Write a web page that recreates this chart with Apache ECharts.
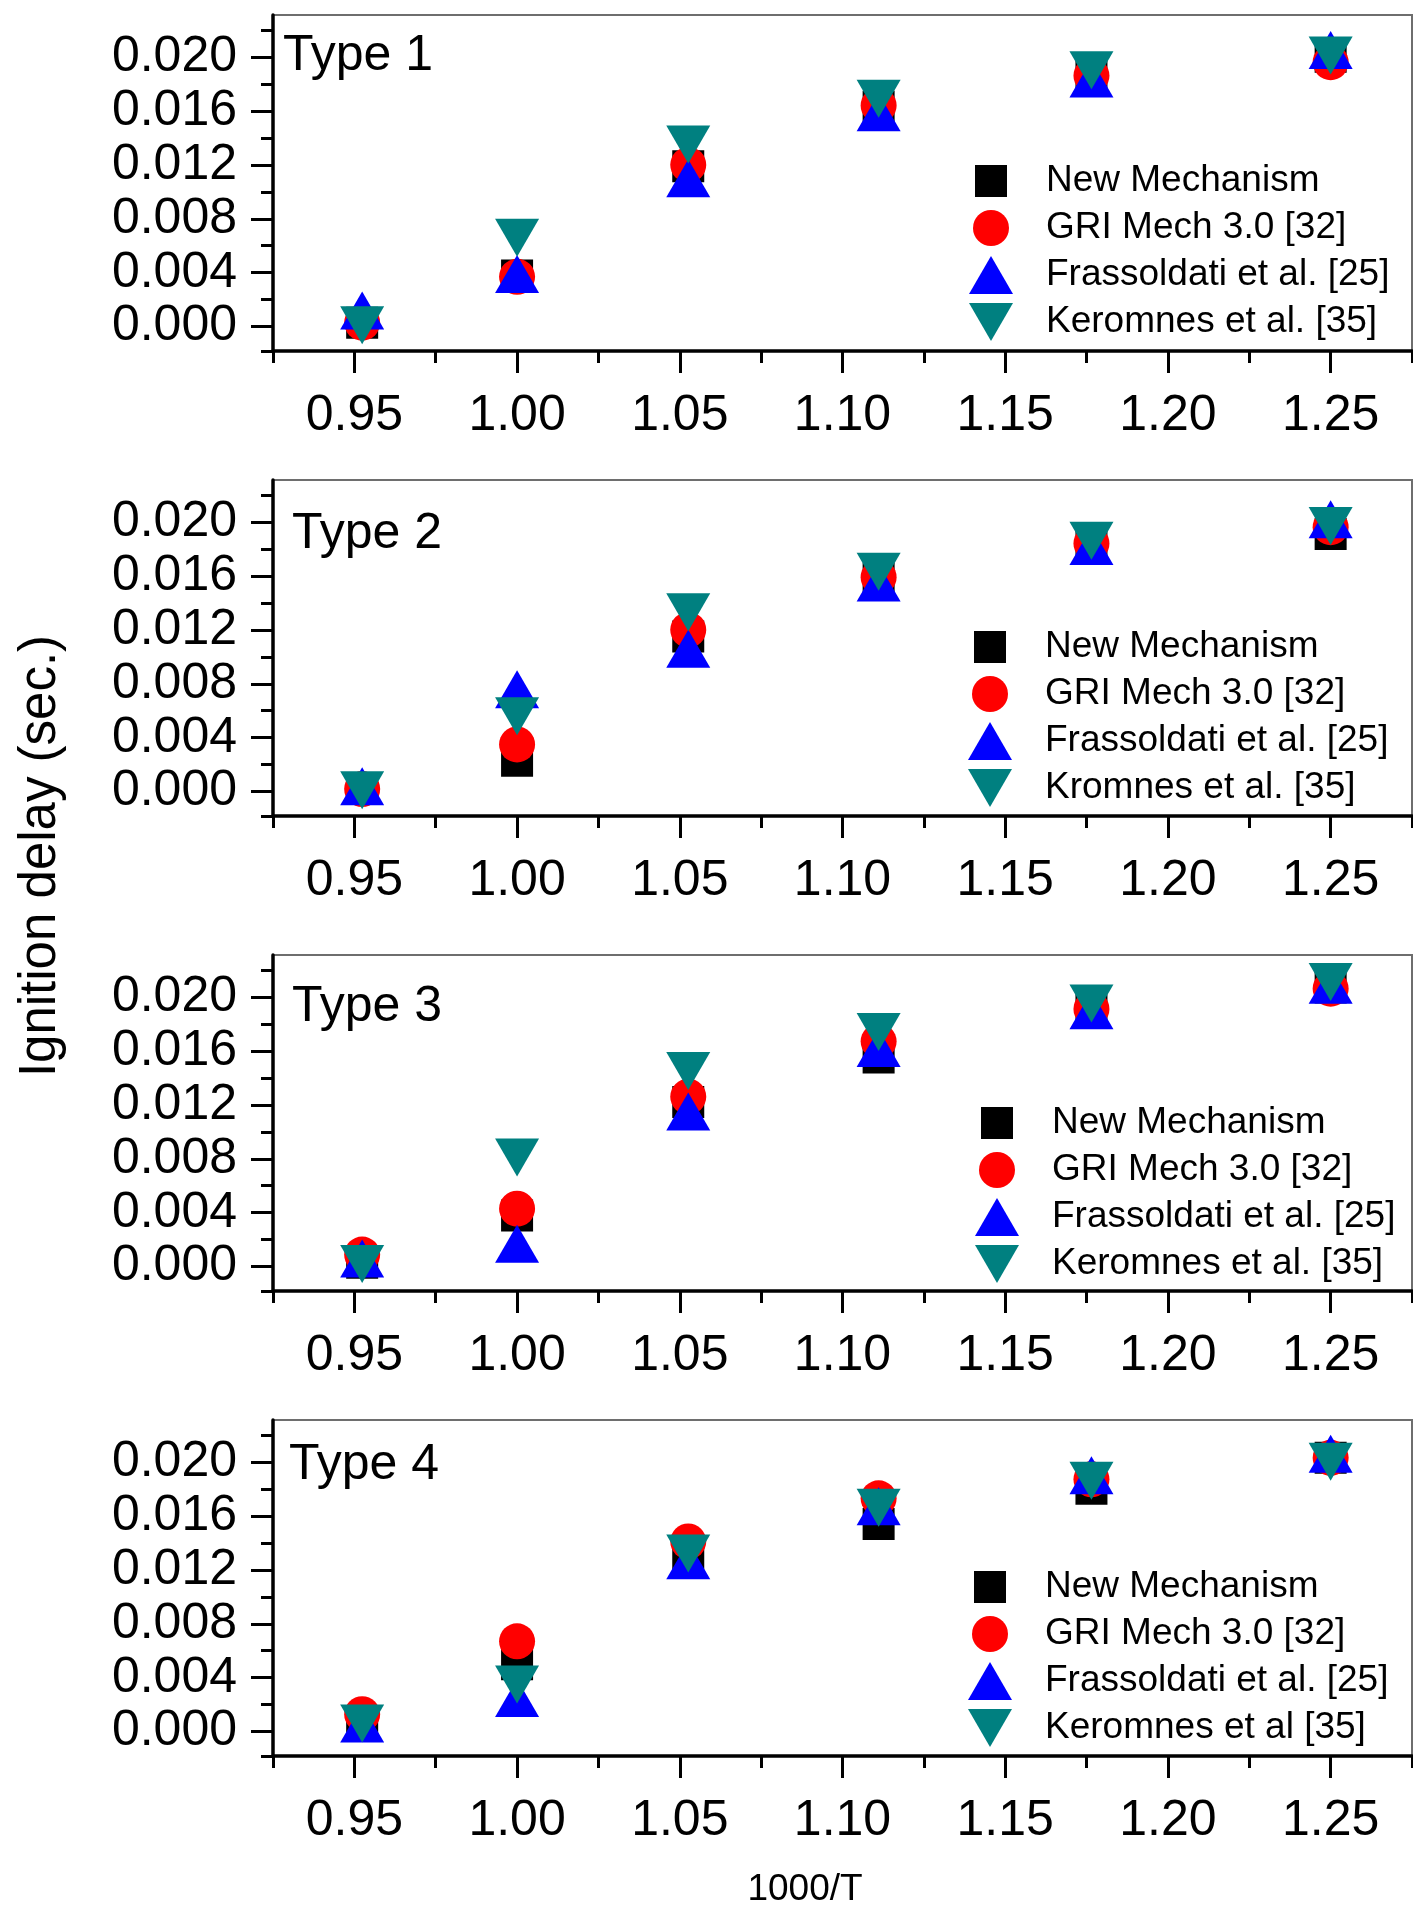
<!DOCTYPE html>
<html>
<head>
<meta charset="utf-8">
<title>Ignition delay vs 1000/T</title>
<script src="https://cdn.jsdelivr.net/npm/echarts@6/dist/echarts.min.js"></script>
<style>
  html, body { margin: 0; padding: 0; background: #ffffff; overflow: hidden; }
  #chart { width: 1413px; height: 1913px; }
</style>
</head>
<body>
<div id="chart"></div>
<script>
// 1000/T for T = 1050, 1000, 950, 900, 850, 800 K
const inverseTemp = [0.9524, 1.0000, 1.0526, 1.1111, 1.1765, 1.2500];

// Ignition delay (s) per mechanism, Type 1
const type1New  = [0.0003, 0.0038, 0.0119, 0.0163, 0.0185, 0.0200];
const type1Gri  = [0.0003, 0.0037, 0.0120, 0.0164, 0.0186, 0.0196];
const type1Fras = [0.0012, 0.0039, 0.0110, 0.0159, 0.0184, 0.0205];
const type1Ker  = [0.0001, 0.0066, 0.0135, 0.0169, 0.0190, 0.0201];

// Type 2
const type2New  = [0.0002, 0.0023, 0.0115, 0.0158, 0.0183, 0.0191];
const type2Gri  = [0.0002, 0.0035, 0.0120, 0.0159, 0.0184, 0.0196];
const type2Fras = [0.0004, 0.0076, 0.0106, 0.0155, 0.0182, 0.0202];
const type2Ker  = [0.0001, 0.0056, 0.0133, 0.0163, 0.0186, 0.0197];

// Type 3
const type3New  = [0.0003, 0.0038, 0.0122, 0.0155, 0.0190, 0.0207];
const type3Gri  = [0.0009, 0.0043, 0.0126, 0.0167, 0.0191, 0.0206];
const type3Fras = [0.0006, 0.0017, 0.0115, 0.0162, 0.0190, 0.0209];
const type3Ker  = [0.0002, 0.0081, 0.0145, 0.0174, 0.0195, 0.0211];

// Type 4
const type4New  = [0.0005, 0.0050, 0.0130, 0.0154, 0.0180, 0.0203];
const type4Gri  = [0.0013, 0.0067, 0.0141, 0.0173, 0.0187, 0.0203];
const type4Fras = [0.0006, 0.0025, 0.0127, 0.0167, 0.0190, 0.0206];
const type4Ker  = [0.0006, 0.0035, 0.0132, 0.0166, 0.0186, 0.0200];

const panelTitles = ['Type 1', 'Type 2', 'Type 3', 'Type 4'];
const commonNames = ['New Mechanism', 'GRI Mech 3.0 [32]', 'Frassoldati et al. [25]'];
const keromnesNames = ['Keromnes et al. [35]', 'Kromnes et al. [35]', 'Keromnes et al. [35]', 'Keromnes et al [35]'];

const xTicks = [0.95, 1.00, 1.05, 1.10, 1.15, 1.20, 1.25];
const xMinorTicks = [0.925, 0.975, 1.025, 1.075, 1.125, 1.175, 1.225, 1.275];
const yTicks = [0.000, 0.004, 0.008, 0.012, 0.016, 0.020];
const yMinorTicks = [0.002, 0.006, 0.010, 0.014, 0.018, 0.022];

const panelData = [
  [type1New, type1Gri, type1Fras, type1Ker],
  [type2New, type2Gri, type2Fras, type2Ker],
  [type3New, type3Gri, type3Fras, type3Ker],
  [type4New, type4Gri, type4Fras, type4Ker]
];

// ---- layout and styling ----
const FONT = "'Liberation Sans', Arial, Helvetica, sans-serif";
const X_MIN = 0.925, X_MAX = 1.275;
const Y_MIN = -0.0018, Y_MAX = 0.0231;
const GRID_LEFT = 273, GRID_WIDTH = 1139, GRID_HEIGHT = 336;
const panelTops = [15, 480, 955, 1420];
const titleLeft = [283, 292, 292, 289];
const titleTop = [31, 509, 982, 1440];
const legendLeft = [969, 968, 975, 968];
const legendTop = [162, 628, 1104, 1568];

// marker per mechanism; legend icons share a 72x38 box so the text starts at the same place
const markers = [
  { color: '#000000', symbol: 'rect', size: 32,
    icon: 'path://M0,0M72,38M6,3L38,3L38,35L6,35Z' },
  { color: '#ff0000', symbol: 'circle', size: 36,
    icon: 'path://M0,0M72,38M4,19A18,18,0,1,1,40,19A18,18,0,1,1,4,19Z' },
  { color: '#0000ff', symbol: 'triangle', size: [44, 38],
    icon: 'path://M0,0M72,38M22,0L44,38L0,38Z' },
  { color: '#008080', symbol: 'path://M0,0L44,0L22,38Z', size: [44, 38],
    icon: 'path://M0,0M72,38M0,0L44,0L22,38Z' }
];

const grids = [], xAxes = [], yAxes = [], series = [], legends = [], titles = [];

panelData.forEach((sets, i) => {
  grids.push({
    left: GRID_LEFT, top: panelTops[i], width: GRID_WIDTH, height: GRID_HEIGHT,
    show: true, borderColor: '#6e6e6e', borderWidth: 2, backgroundColor: 'transparent', z: 0
  });

  // major x ticks with labels
  xAxes.push({
    type: 'value', gridIndex: i, min: X_MIN, max: X_MAX, position: 'bottom', z: 3,
    axisLine: { show: true, onZero: false, lineStyle: { color: '#000', width: 3.5 } },
    axisTick: { show: true, customValues: xTicks, length: 22, lineStyle: { color: '#000', width: 3 } },
    axisLabel: { show: true, customValues: xTicks, margin: 40, color: '#000',
      fontFamily: FONT, fontSize: 50, formatter: v => v.toFixed(2) },
    splitLine: { show: false }
  });
  // minor x ticks
  xAxes.push({
    type: 'value', gridIndex: i, min: X_MIN, max: X_MAX, position: 'bottom', z: 3,
    axisLine: { show: false, onZero: false },
    axisTick: { show: true, customValues: xMinorTicks, length: 12, lineStyle: { color: '#000', width: 3 } },
    axisLabel: { show: false },
    splitLine: { show: false }
  });

  // major y ticks with labels
  yAxes.push({
    type: 'value', gridIndex: i, min: Y_MIN, max: Y_MAX, position: 'left', z: 3,
    axisLine: { show: true, onZero: false, lineStyle: { color: '#000', width: 3.5 } },
    axisTick: { show: true, customValues: yTicks, length: 22, lineStyle: { color: '#000', width: 3 } },
    axisLabel: { show: true, customValues: yTicks, margin: 36, color: '#000',
      fontFamily: FONT, fontSize: 50, formatter: v => v.toFixed(3) },
    splitLine: { show: false }
  });
  // minor y ticks (the one at the axis minimum makes the corner stub)
  yAxes.push({
    type: 'value', gridIndex: i, min: Y_MIN, max: Y_MAX, position: 'left', z: 3,
    axisLine: { show: false, onZero: false },
    axisTick: { show: true, customValues: [Y_MIN].concat(yMinorTicks), length: 12,
      lineStyle: { color: '#000', width: 3 } },
    axisLabel: { show: false },
    splitLine: { show: false }
  });

  const names = commonNames.concat([keromnesNames[i]]);

  sets.forEach((values, k) => {
    series.push({
      type: 'scatter',
      name: names[k],
      xAxisIndex: 2 * i,
      yAxisIndex: 2 * i,
      data: inverseTemp.map((x, j) => [x, values[j]]),
      symbol: markers[k].symbol,
      symbolSize: markers[k].size,
      itemStyle: { color: markers[k].color, opacity: 1 },
      silent: true,
      z: 2
    });
  });

  legends.push({
    orient: 'vertical', left: legendLeft[i], top: legendTop[i], padding: 0,
    itemWidth: 72, itemHeight: 38, itemGap: 9, selectedMode: false,
    textStyle: { fontFamily: FONT, fontSize: 37, color: '#000' },
    data: names.map((n, k) => ({ name: n, icon: markers[k].icon }))
  });

  titles.push({
    text: panelTitles[i], left: titleLeft[i], top: titleTop[i], padding: 0,
    textStyle: { fontFamily: FONT, fontSize: 50, fontWeight: 'normal', color: '#000' }
  });
});

const chart = echarts.init(document.getElementById('chart'), null, { renderer: 'canvas' });
chart.setOption({
  backgroundColor: '#ffffff',
  animation: false,
  title: titles,
  legend: legends,
  grid: grids,
  xAxis: xAxes,
  yAxis: yAxes,
  series: series,
  graphic: [
    {
      type: 'text', x: 41, y: 856, rotation: Math.PI / 2, silent: true,
      style: { text: 'Ignition delay (sec.)', font: '51px ' + FONT, fill: '#000',
        align: 'center', verticalAlign: 'middle' }
    },
    {
      type: 'text', x: 805, y: 1890, silent: true,
      style: { text: '1000/T', font: '37px ' + FONT, fill: '#000',
        align: 'center', verticalAlign: 'middle' }
    }
  ]
});
</script>
</body>
</html>
